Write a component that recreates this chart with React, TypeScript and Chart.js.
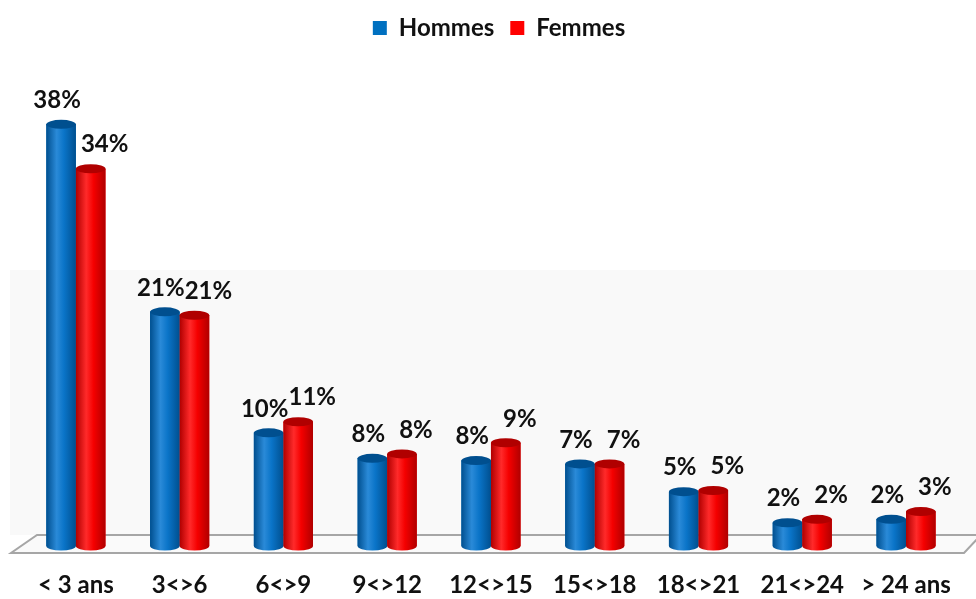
import React, { useEffect, useRef } from "react";
import { Chart, registerables } from "chart.js";

Chart.register(...registerables);

const categories = ["< 3 ans", "3<>6", "6<>9", "9<>12", "12<>15", "15<>18", "18<>21", "21<>24", "> 24 ans"];
const hommes = [38, 21.1, 10.2, 7.9, 7.7, 7.4, 4.9, 2.1, 2.4];
const femmes = [34, 20.8, 11.2, 8.3, 9.3, 7.4, 5.0, 2.4, 3.1];
const seriesNames = ["Hommes", "Femmes"];

const FONT = "Lato, 'Open Sans', sans-serif";

const shades = [
  { dark: "#004f8f", mid: "#0a74c8", light: "#2a8ad8" },
  { dark: "#b00000", mid: "#f50000", light: "#ff2a2a" },
];

const cylinderPlugin = {
  id: "cylinders",
  beforeDatasetsDraw(chart: any) {
    const ctx = chart.ctx;
    const area = chart.chartArea;
    const yScale = chart.scales.y;
    const base = yScale.getPixelForValue(0);
    ctx.save();
    ctx.fillStyle = "#f9f9f9";
    ctx.fillRect(10, 270, chart.width - 10, base - 11 - 270);
    const back = base - 11;
    const front = base + 7;
    ctx.beginPath();
    ctx.moveTo(area.left + 13, back);
    ctx.lineTo(chart.width + 5, back);
    ctx.lineTo(chart.width - 12, front);
    ctx.lineTo(area.left - 13, front);
    ctx.closePath();
    ctx.fillStyle = "#fafafa";
    ctx.fill();
    ctx.strokeStyle = "#a6a6a6";
    ctx.lineWidth = 2;
    ctx.stroke();
    ctx.restore();
  },
  afterDatasetsDraw(chart: any) {
    const ctx = chart.ctx;
    chart.data.datasets.forEach((ds: any, di: number) => {
      const meta = chart.getDatasetMeta(di);
      const sh = shades[di];
      meta.data.forEach((bar: any, i: number) => {
        const x = bar.x;
        const w = bar.width;
        const l = x - w / 2;
        const top = bar.y;
        const bottom = bar.base;
        const ry = 4.5;
        const g = ctx.createLinearGradient(l, 0, l + w, 0);
        g.addColorStop(0, sh.dark);
        g.addColorStop(0.35, sh.light);
        g.addColorStop(0.6, sh.mid);
        g.addColorStop(1, sh.dark);
        ctx.save();
        ctx.fillStyle = g;
        ctx.beginPath();
        ctx.moveTo(l, top);
        ctx.lineTo(l, bottom);
        ctx.ellipse(x, bottom, w / 2, ry, 0, Math.PI, 0, true);
        ctx.lineTo(l + w, top);
        ctx.closePath();
        ctx.fill();
        ctx.beginPath();
        ctx.ellipse(x, top, w / 2, ry, 0, 0, Math.PI * 2);
        ctx.fillStyle = sh.dark;
        ctx.fill();
        ctx.restore();
        ctx.save();
        ctx.font = "bold 24px " + FONT;
        ctx.fillStyle = "#111";
        ctx.textAlign = "center";
        ctx.textBaseline = "middle";
        const lx = di === 0 ? x - 4 : x + 14;
        ctx.fillText(Math.round(ds.data[i]) + "%", lx, top - 24);
        ctx.restore();
      });
    });
  },
};

export default function App() {
  const ref = useRef<HTMLCanvasElement>(null);
  useEffect(() => {
    document.body.style.margin = "0";
    const chart = new Chart(ref.current!, {
      type: "bar",
      data: {
        labels: categories,
        datasets: [
          { label: seriesNames[0], data: hommes, backgroundColor: "#0070C0", borderWidth: 0 },
          { label: seriesNames[1], data: femmes, backgroundColor: "#FF0000", borderWidth: 0 },
        ],
      },
      options: {
        animation: false,
        responsive: false,
        layout: { padding: { left: 24, right: 2, top: 0, bottom: 0 } },
        categoryPercentage: 0.57,
        barPercentage: 1,
        plugins: {
          legend: {
            display: true,
            position: "top",
            labels: {
              boxWidth: 14,
              boxHeight: 14,
              padding: 16,
              color: "#111",
              font: { family: FONT, size: 24, weight: "bold" },
            },
          },
          tooltip: { enabled: false },
        },
        scales: {
          x: {
            grid: { display: false, drawTicks: false },
            border: { display: false },
            afterFit(scale: any) {
              scale.height = 53;
            },
            ticks: {
              color: "#111",
              padding: 25,
              font: { family: FONT, size: 24, weight: "bold" },
              maxRotation: 0,
              autoSkip: false,
            },
          },
          y: { display: false, min: 0, max: 44.7 },
        },
      },
      plugins: [cylinderPlugin],
    } as any);
    return () => chart.destroy();
  }, []);
  return <canvas ref={ref} width={976} height={599} style={{ display: "block" }} />;
}
